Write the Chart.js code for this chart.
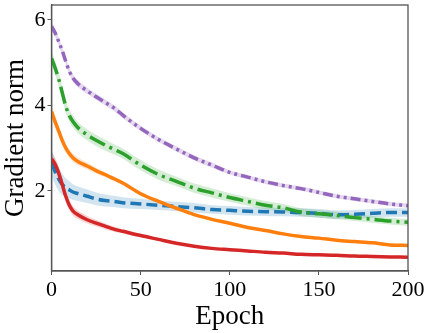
<!DOCTYPE html>
<html>
<head>
<meta charset="utf-8">
<script src="https://cdn.jsdelivr.net/npm/chart.js@4/dist/chart.umd.min.js"></script>
<style>
  html, body { margin: 0; padding: 0; background: #fff; }
  #wrap { width: 432px; height: 333px; }
</style>
</head>
<body>
<div id="wrap"><canvas id="graf" width="432" height="333"></canvas></div>
<script>
"use strict";

const epoker = [0, 2, 4, 6, 8, 10, 12, 15, 20, 25, 30, 35, 40, 50, 60, 70, 80, 90, 100, 110, 120, 130, 140, 150, 160, 170, 180, 190, 200];

const lilla   = [5.85, 5.70, 5.50, 5.28, 5.03, 4.80, 4.64, 4.50, 4.34, 4.20, 4.07, 3.94, 3.77, 3.46, 3.20, 2.98, 2.77, 2.60, 2.43, 2.32, 2.21, 2.12, 2.05, 1.96, 1.87, 1.81, 1.75, 1.69, 1.65];
const groen   = [5.10, 4.88, 4.62, 4.30, 3.98, 3.76, 3.62, 3.47, 3.31, 3.18, 3.07, 2.97, 2.87, 2.60, 2.38, 2.22, 2.06, 1.95, 1.84, 1.75, 1.66, 1.60, 1.50, 1.46, 1.42, 1.37, 1.33, 1.29, 1.26];
const orange  = [3.86, 3.62, 3.40, 3.18, 3.00, 2.87, 2.77, 2.68, 2.58, 2.47, 2.38, 2.28, 2.18, 1.93, 1.75, 1.59, 1.44, 1.33, 1.24, 1.14, 1.07, 0.99, 0.93, 0.89, 0.84, 0.81, 0.78, 0.73, 0.72];
const blaa    = [2.65, 2.45, 2.28, 2.15, 2.07, 2.02, 1.97, 1.93, 1.87, 1.81, 1.77, 1.75, 1.72, 1.69, 1.66, 1.63, 1.60, 1.56, 1.54, 1.52, 1.51, 1.50, 1.49, 1.47, 1.44, 1.45, 1.47, 1.49, 1.49];
const roed    = [2.75, 2.62, 2.42, 2.15, 1.87, 1.66, 1.53, 1.43, 1.32, 1.24, 1.17, 1.10, 1.05, 0.95, 0.86, 0.77, 0.70, 0.65, 0.62, 0.59, 0.56, 0.54, 0.51, 0.50, 0.49, 0.47, 0.46, 0.45, 0.44];

// spredning (halv båndbredde)
const lillaStd  = [0.09, 0.09, 0.09, 0.09, 0.08, 0.08, 0.08, 0.08, 0.07, 0.07, 0.07, 0.07, 0.07, 0.06, 0.06, 0.06, 0.06, 0.06, 0.05, 0.05, 0.05, 0.05, 0.05, 0.05, 0.05, 0.05, 0.05, 0.05, 0.05];
const groenStd  = [0.16, 0.16, 0.16, 0.15, 0.15, 0.14, 0.14, 0.13, 0.13, 0.13, 0.13, 0.12, 0.12, 0.12, 0.12, 0.11, 0.11, 0.11, 0.10, 0.10, 0.10, 0.09, 0.09, 0.09, 0.09, 0.08, 0.08, 0.08, 0.08];
const orangeStd = [0.12, 0.12, 0.12, 0.11, 0.11, 0.10, 0.10, 0.09, 0.08, 0.07, 0.06, 0.05, 0.05, 0.04, 0.04, 0.03, 0.03, 0.03, 0.03, 0.03, 0.03, 0.03, 0.03, 0.03, 0.03, 0.03, 0.03, 0.03, 0.03];
const blaaStd   = [0.30, 0.30, 0.28, 0.25, 0.22, 0.20, 0.18, 0.17, 0.16, 0.15, 0.14, 0.13, 0.13, 0.12, 0.11, 0.11, 0.11, 0.10, 0.10, 0.10, 0.10, 0.10, 0.10, 0.10, 0.10, 0.10, 0.10, 0.10, 0.10];
const roedStd   = [0.15, 0.15, 0.15, 0.14, 0.13, 0.12, 0.11, 0.10, 0.09, 0.08, 0.07, 0.06, 0.05, 0.04, 0.03, 0.03, 0.02, 0.02, 0.02, 0.02, 0.02, 0.02, 0.02, 0.02, 0.02, 0.02, 0.02, 0.02, 0.02];

const yTicks = [2, 4, 6];

const serier = [
  { navn: "lilla",  data: lilla,  std: lillaStd,  farve: "#9467bd", baand: "rgba(148,103,189,0.25)", streg: [10, 4, 3, 4, 3, 4], orden: 0 },
  { navn: "roed",   data: roed,   std: roedStd,   farve: "#d62728", baand: "rgba(214,39,40,0.2)",    streg: [],                 orden: 1 },
  { navn: "groen",  data: groen,  std: groenStd,  farve: "#2ca02c", baand: "rgba(44,160,44,0.2)",    streg: [17, 5, 3, 5],      orden: 2 },
  { navn: "orange", data: orange, std: orangeStd, farve: "#ff7f0e", baand: "rgba(255,127,14,0.2)",   streg: [],                 orden: 3 },
  { navn: "blaa",   data: blaa,   std: blaaStd,   farve: "#1f77b4", baand: "rgba(31,119,180,0.2)",   streg: [11, 5],            orden: 4 }
];

const punkter = (ys) => ys.map((y, i) => ({ x: epoker[i], y: y }));

const datasets = [];
serier.forEach(s => {
  datasets.push({
    label: s.navn + "-top",
    data: punkter(s.data.map((v, i) => v + s.std[i])),
    borderWidth: 0, pointRadius: 0, fill: false, order: 10 + s.orden,
    cubicInterpolationMode: "monotone"
  });
  datasets.push({
    label: s.navn + "-bund",
    data: punkter(s.data.map((v, i) => v - s.std[i])),
    borderWidth: 0, pointRadius: 0, fill: "-1", backgroundColor: s.baand, order: 10 + s.orden,
    cubicInterpolationMode: "monotone"
  });
  datasets.push({
    label: s.navn,
    data: punkter(s.data),
    borderColor: s.farve, borderWidth: 3.5, borderDash: s.streg, borderCapStyle: "butt",
    pointRadius: 0, fill: false, order: s.orden,
    cubicInterpolationMode: "monotone"
  });
});

const rammePlugin = {
  id: "ramme",
  afterDatasetsDraw(chart) {
    const { ctx, chartArea: a } = chart;
    ctx.save();
    ctx.strokeStyle = "#555";
    ctx.lineWidth = 1.3;
    ctx.strokeRect(a.left, a.top, a.right - a.left, a.bottom - a.top);
    ctx.restore();
  }
};

const skrift = "'Liberation Serif', 'DejaVu Serif', serif";

new Chart(document.getElementById("graf").getContext("2d"), {
  type: "line",
  data: { datasets: datasets },
  plugins: [rammePlugin],
  options: {
    responsive: false,
    animation: false,
    layout: { padding: { top: 5, right: 24, left: 0, bottom: 0 } },
    plugins: {
      legend: { display: false },
      tooltip: { enabled: false },
      filler: { drawTime: "beforeDatasetsDraw" }
    },
    scales: {
      x: {
        type: "linear", min: 0, max: 200,
        afterFit: s => { s.height = 62; s.paddingLeft = 0; s.paddingRight = 0; },
        ticks: { stepSize: 50, color: "#000", font: { family: skrift, size: 22 }, padding: 2, maxRotation: 0 },
        grid: { drawOnChartArea: false, tickLength: 4, color: "#555" },
        border: { color: "#555", width: 1.3 },
        title: { display: true, text: "Epoch", color: "#000", font: { family: skrift, size: 27 }, padding: 0 }
      },
      y: {
        type: "linear", min: 0.12, max: 6.35,
        afterFit: s => { s.width = 51.5; s.paddingTop = 0; s.paddingBottom = 0; },
        afterBuildTicks: s => { s.ticks = yTicks.map(v => ({ value: v })); },
        ticks: { color: "#000", font: { family: skrift, size: 22 }, padding: 2 },
        grid: { drawOnChartArea: false, tickLength: 4, color: "#555" },
        border: { color: "#555", width: 1.3 },
        title: { display: true, text: "Gradient norm", color: "#000", font: { family: skrift, size: 27 }, padding: 0 }
      }
    }
  }
});
</script>
</body>
</html>
